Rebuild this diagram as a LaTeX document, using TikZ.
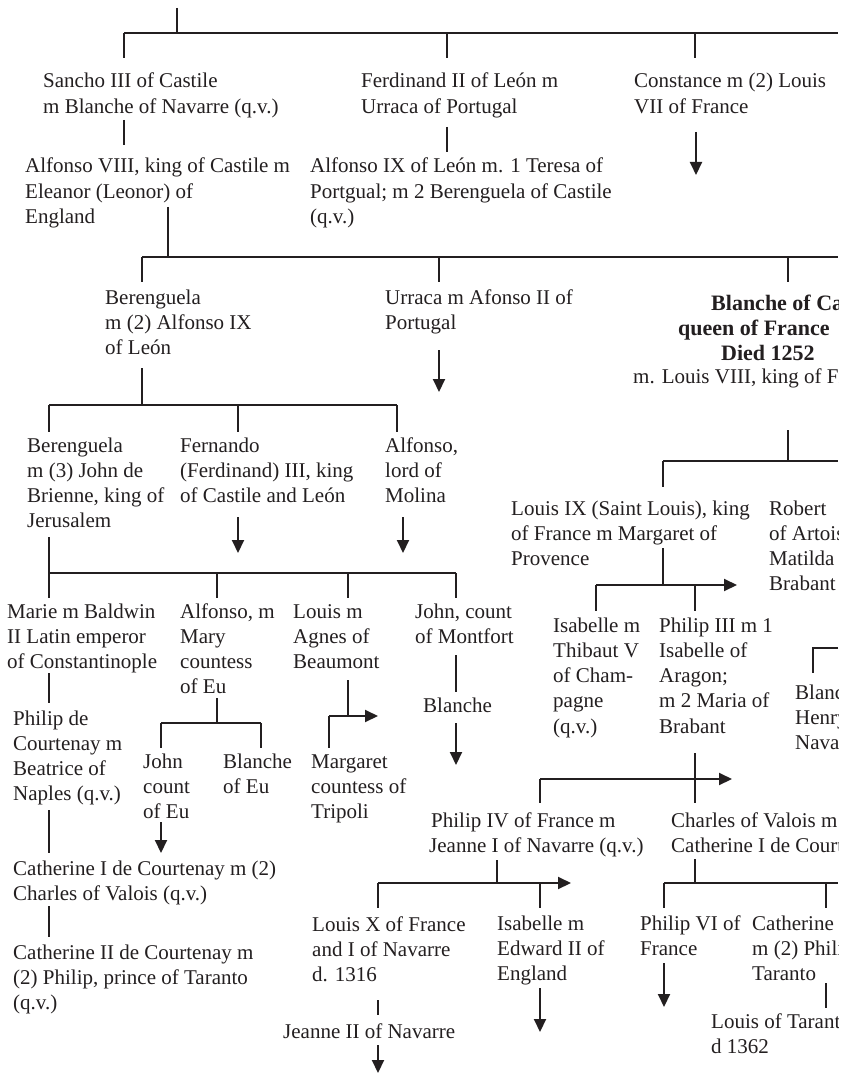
\documentclass[tikz,border=0pt]{standalone}
\usepackage{fontspec}
\setmainfont{Liberation Serif}
\usetikzlibrary{arrows.meta}
\definecolor{ink}{HTML}{231F20}
% a block of lines whose baseline is that of its first line
\newcommand{\kinlines}[1]{\begin{tabular}[t]{@{}l@{}}#1\end{tabular}}
\tikzset{
  person/.style={anchor=base west, inner sep=0pt, text=ink,
    font=\fontsize{21}{25.3}\selectfont},
  ruler/.style={draw=ink, line width=2pt},
  cont/.style={ruler, -{Triangle[length=13pt,width=12pt]}},
}
\begin{document}
\begin{tikzpicture}[x=1pt,y=-1pt]
\useasboundingbox[fill=white] (0,0) rectangle (848,1075);
\begin{scope}
\clip (0,0) rectangle (838,1075);

% ---------- people ----------
\node[person] (sancho) at (43,88) {\kinlines{Sancho III of Castile\\m Blanche of Navarre (q.v.)}};
\node[person] (ferd) at (361,88) {\kinlines{Ferdinand II of León m\\Urraca of Portugal}};
\node[person] (constance) at (634,88) {\kinlines{Constance m (2) Louis\\VII of France}};
\node[person] (alf8) at (25,173) {\kinlines{Alfonso VIII, king of Castile m\\Eleanor (Leonor) of\\England}};
\node[person] (alf9) at (310,173) {\kinlines{Alfonso IX of León m. 1 Teresa of\\Portgual; m 2 Berenguela of Castile\\(q.v.)}};
\node[person] (bereng2) at (105,304) {\kinlines{Berenguela\\m (2) Alfonso IX\\of León}};
\node[person] (urraca) at (385,304) {\kinlines{Urraca m Afonso II of\\Portugal}};
\node[person, font=\fontsize{22}{25}\selectfont\bfseries] (blanche) at (678,310)
  {\kinlines{\hspace*{33pt}Blanche of Castile,\\queen of France\\\hspace*{43pt}Died 1252}};
\node[person] (louis8) at (633,383) {m. Louis VIII, king of France};
\node[person] (bereng3) at (27,452) {\kinlines{Berenguela\\m (3) John de\\Brienne, king of\\Jerusalem}};
\node[person] (fernando) at (180,452) {\kinlines{Fernando\\(Ferdinand) III, king\\of Castile and León}};
\node[person] (alfmol) at (385,452) {\kinlines{Alfonso,\\lord of\\Molina}};
\node[person] (louis9) at (511,515) {\kinlines{Louis IX (Saint Louis), king\\of France m Margaret of\\Provence}};
\node[person] (robert) at (769,515) {\kinlines{Robert\\of Artois m\\Matilda of\\Brabant}};
\node[person] (marie) at (7,618) {\kinlines{Marie m Baldwin\\II Latin emperor\\of Constantinople}};
\node[person] (alfeu) at (180,618) {\kinlines{Alfonso, m\\Mary\\countess\\of Eu}};
\node[person] (louism) at (293,618) {\kinlines{Louis m\\Agnes of\\Beaumont}};
\node[person] (johnmont) at (415,618) {\kinlines{John, count\\of Montfort}};
\node[person] (blanchemont) at (423,712) {Blanche};
\node[person] (isabelle) at (553,632) {\kinlines{Isabelle m\\Thibaut V\\of Cham-\\pagne\\(q.v.)}};
\node[person] (philip3) at (659,632) {\kinlines{Philip III m 1\\Isabelle of\\Aragon;\\m 2 Maria of\\Brabant}};
\node[person] (blanchenav) at (795,699) {\kinlines{Blanche m\\Henry I of\\Navarre}};
\node[person] (philipdc) at (13,725) {\kinlines{Philip de\\Courtenay m\\Beatrice of\\Naples (q.v.)}};
\node[person] (johneu) at (143,768) {\kinlines{John\\count\\of Eu}};
\node[person] (blancheeu) at (223,768) {\kinlines{Blanche\\of Eu}};
\node[person] (margaret) at (311,768) {\kinlines{Margaret\\countess of\\Tripoli}};
\node[person] (philip4) at (431,827) {\kinlines{Philip IV of France m\\\hspace*{-2pt}Jeanne I of Navarre (q.v.)}};
\node[person] (charles) at (671,827) {\kinlines{Charles of Valois m\\Catherine I de Courtenay}};
\node[person] (cath1) at (13,875) {\kinlines{Catherine I de Courtenay m (2)\\Charles of Valois (q.v.)}};
\node[person] (cath2) at (13,959) {\kinlines{Catherine II de Courtenay m\\(2) Philip, prince of Taranto\\(q.v.)}};
\node[person] (louisx) at (312,931) {\kinlines{Louis X of France\\and I of Navarre\\d. 1316}};
\node[person] (isabelle2) at (497,930) {\kinlines{Isabelle m\\Edward II of\\England}};
\node[person] (philip6) at (640,930) {\kinlines{Philip VI of\\France}};
\node[person] (catherine) at (752,930) {\kinlines{Catherine\\m (2) Philip of\\Taranto}};
\node[person] (jeanne2) at (283,1038) {Jeanne II of Navarre};
\node[person] (louistar) at (711,1028) {\kinlines{Louis of Taranto\\d 1362}};

% ---------- children of the first couple ----------
\coordinate (top) at (177,8);
\coordinate (barA) at (177,33);
\coordinate (barAw) at (124,33);
\coordinate (barAf) at (447,33);
\coordinate (barAc) at (695,33);
\coordinate (barAe) at (838,33);
\draw[ruler] (top) -- (barA);
\draw[ruler] (barAw) -- (barAe);
\draw[ruler] (barAw) -- ++(0,25);
\draw[ruler] (barAf) -- ++(0,25);
\draw[ruler] (barAc) -- ++(0,25);

\coordinate (sanchoDown) at (124,120);
\draw[ruler] (sanchoDown) -- ++(0,25);
\coordinate (ferdDown) at (447,127);
\draw[ruler] (ferdDown) -- ++(0,25);
\coordinate (constDown) at (696,132);
\draw[cont] (constDown) -- ++(0,43);

% ---------- children of Alfonso VIII ----------
\coordinate (alfDown) at (168,207);
\coordinate (barB) at (168,257);
\coordinate (barBw) at (142,257);
\coordinate (barBu) at (439,257);
\coordinate (barBb) at (788,257);
\coordinate (barBe) at (838,257);
\draw[ruler] (alfDown) -- (barB);
\draw[ruler] (barBw) -- (barBe);
\draw[ruler] (barBw) -- ++(0,25);
\draw[ruler] (barBu) -- ++(0,25);
\draw[ruler] (barBb) -- ++(0,25);
\coordinate (urracaDown) at (439,350);
\draw[cont] (urracaDown) -- ++(0,42);

% ---------- children of Berenguela and Alfonso IX ----------
\coordinate (berDown) at (142,368);
\coordinate (barC) at (142,405);
\coordinate (barCw) at (49,405);
\coordinate (barCf) at (238,405);
\coordinate (barCe) at (397,405);
\draw[ruler] (berDown) -- (barC);
\draw[ruler] (barCw) -- (barCe);
\draw[ruler] (barCw) -- ++(0,27);
\draw[ruler] (barCf) -- ++(0,27);
\draw[ruler] (barCe) -- ++(0,27);
\coordinate (fernDown) at (238,517);
\draw[cont] (fernDown) -- ++(0,36);
\coordinate (molDown) at (403,517);
\draw[cont] (molDown) -- ++(0,36);

% ---------- children of Berenguela and John de Brienne ----------
\coordinate (ber3Down) at (49,537);
\coordinate (barD) at (49,573);
\coordinate (barDa) at (217,573);
\coordinate (barDl) at (348,573);
\coordinate (barDe) at (456,573);
\draw[ruler] (ber3Down) -- ++(0,61);
\draw[ruler] (barD) -- (barDe);
\draw[ruler] (barDa) -- ++(0,25);
\draw[ruler] (barDl) -- ++(0,25);
\draw[ruler] (barDe) -- ++(0,25);

\coordinate (marieDown) at (49,673);
\draw[ruler] (marieDown) -- ++(0,30);

\coordinate (euDown) at (217,698);
\coordinate (barE) at (217,723);
\coordinate (barEw) at (161,723);
\coordinate (barEe) at (261,723);
\draw[ruler] (euDown) -- (barE);
\draw[ruler] (barEw) -- (barEe);
\draw[ruler] (barEw) -- ++(0,25);
\draw[ruler] (barEe) -- ++(0,25);
\coordinate (johnEuDown) at (161,822);
\draw[cont] (johnEuDown) -- ++(0,31);

\coordinate (louisDown) at (348,680);
\coordinate (barF) at (348,716);
\coordinate (barFw) at (329,716);
\coordinate (barFe) at (378,716);
\draw[ruler] (louisDown) -- (barF);
\draw[cont] (barFw) -- (barFe);
\draw[ruler] (barFw) -- ++(0,32);

\coordinate (montDown) at (456,655);
\draw[ruler] (montDown) -- ++(0,37);
\coordinate (blMontDown) at (456,723);
\draw[cont] (blMontDown) -- ++(0,42);

\coordinate (pdcDown) at (49,810);
\draw[ruler] (pdcDown) -- ++(0,43);
\coordinate (cath1Down) at (49,906);
\draw[ruler] (cath1Down) -- ++(0,31);

% ---------- children of Blanche and Louis VIII ----------
\coordinate (l8Down) at (788,430);
\coordinate (barG) at (788,461);
\coordinate (barGw) at (663,461);
\coordinate (barGe) at (838,461);
\draw[ruler] (l8Down) -- (barG);
\draw[ruler] (barGw) -- (barGe);
\draw[ruler] (barGw) -- ++(0,26);

\coordinate (l9Down) at (663,548);
\coordinate (barH) at (663,585);
\coordinate (barHw) at (596,585);
\coordinate (barHp) at (695,585);
\coordinate (barHe) at (737,585);
\draw[ruler] (l9Down) -- (barH);
\draw[cont] (barHw) -- (barHe);
\draw[ruler] (barHw) -- ++(0,26);
\draw[ruler] (barHp) -- ++(0,26);

\coordinate (bnEnd) at (838,648);
\coordinate (bnCorner) at (813,648);
\draw[ruler] (bnEnd) -- (bnCorner) -- ++(0,25);

\coordinate (p3Down) at (695,753);
\coordinate (barIw) at (540,779);
\coordinate (barIe) at (732,779);
\draw[ruler] (p3Down) -- ++(0,50);
\draw[cont] (barIw) -- (barIe);
\draw[ruler] (barIw) -- ++(0,24);

\coordinate (p4Down) at (497,860);
\coordinate (barJ) at (497,883);
\coordinate (barJw) at (378,883);
\coordinate (barJi) at (540,883);
\coordinate (barJe) at (571,883);
\draw[ruler] (p4Down) -- (barJ);
\draw[cont] (barJw) -- (barJe);
\draw[ruler] (barJw) -- ++(0,25);
\draw[ruler] (barJi) -- ++(0,25);
\coordinate (lxDown) at (378,1000);
\draw[ruler] (lxDown) -- ++(0,15);
\coordinate (j2Down) at (378,1045);
\draw[cont] (j2Down) -- ++(0,28);
\coordinate (isaDown) at (540,988);
\draw[cont] (isaDown) -- ++(0,44);

\coordinate (chDown) at (695,859);
\coordinate (barK) at (695,883);
\coordinate (barKw) at (664,883);
\coordinate (barKc) at (826,883);
\coordinate (barKe) at (838,883);
\draw[ruler] (chDown) -- (barK);
\draw[ruler] (barKw) -- (barKe);
\draw[ruler] (barKw) -- ++(0,25);
\draw[ruler] (barKc) -- ++(0,25);
\coordinate (p6Down) at (664,963);
\draw[cont] (p6Down) -- ++(0,44);
\coordinate (catDown) at (826,983);
\draw[ruler] (catDown) -- ++(0,25);
\end{scope}
\end{tikzpicture}
\end{document}
